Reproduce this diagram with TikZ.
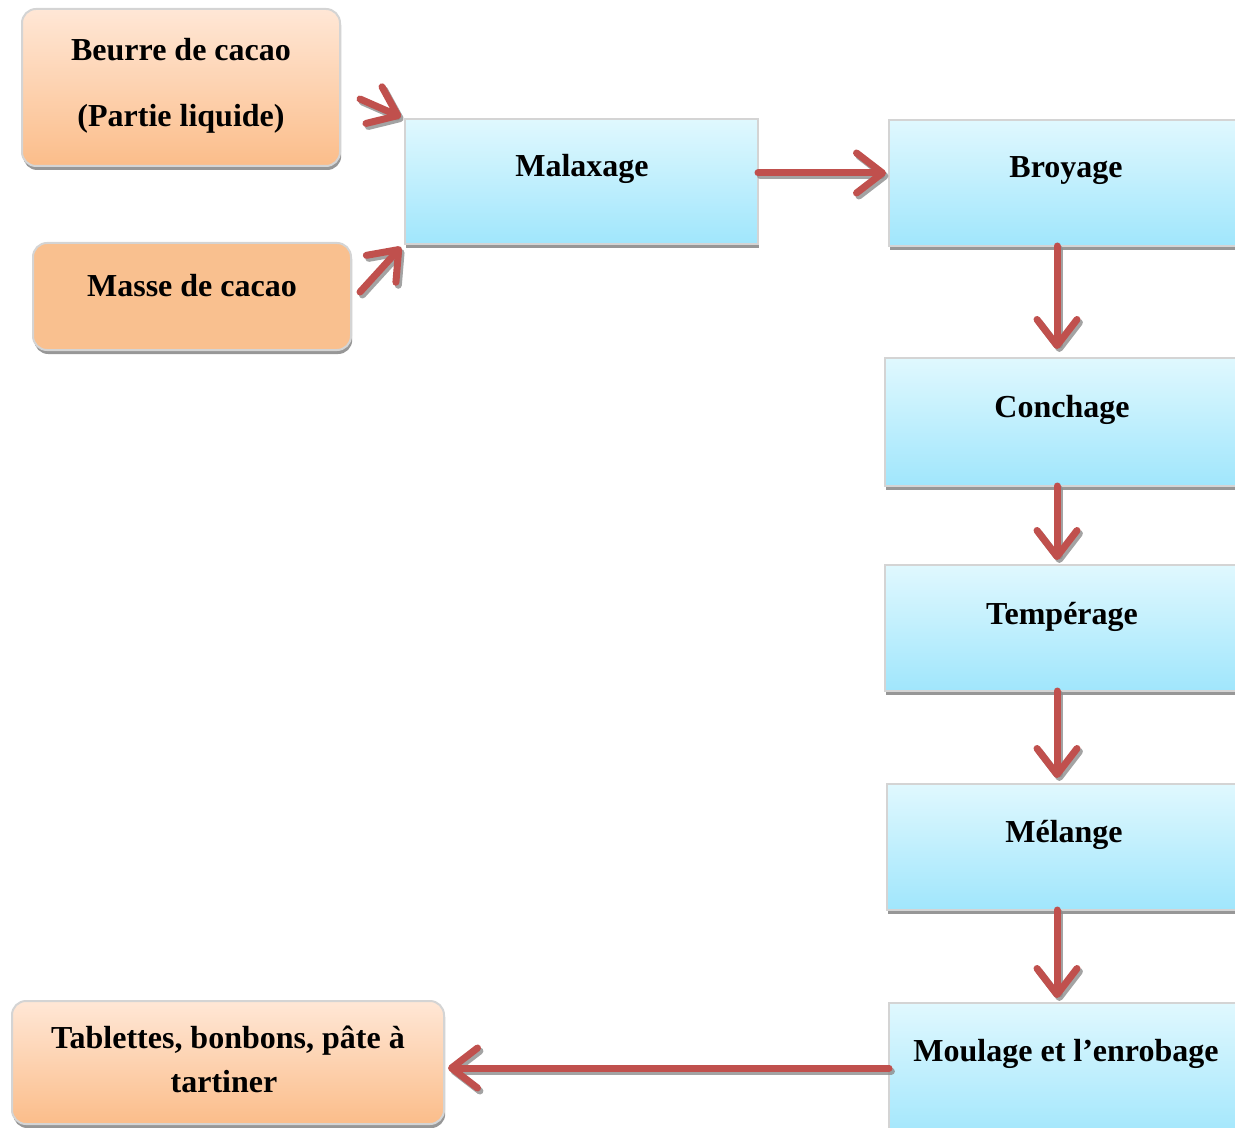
\documentclass[tikz,border=0pt]{standalone}
\usepackage{fontspec}
\setmainfont{Liberation Serif}
\usetikzlibrary{arrows.meta,fit,shadows,calc}

\definecolor{flowred}{HTML}{C0504D}
\definecolor{blueTop}{HTML}{E0F8FE}
\definecolor{blueBot}{HTML}{A0E6FC}
\definecolor{peachTop}{HTML}{FFE7D6}
\definecolor{peachBot}{HTML}{FBBD8A}
\definecolor{peachFlat}{HTML}{F9C08F}
\definecolor{boxEdge}{HTML}{D4D4D4}

\tikzset{
  box/.style={draw=boxEdge, line width=1pt, inner sep=0pt, outer sep=0pt,
    drop shadow={shadow xshift=0.6pt, shadow yshift=-2pt, fill=black!45, opacity=0.9}},
  bluebox/.style={box, top color=blueTop, bottom color=blueBot},
  peachbox/.style={box, rounded corners=7pt, top color=peachTop, bottom color=peachBot},
  flatbox/.style={box, rounded corners=7pt, fill=peachFlat},
  lbl/.style={font=\bfseries\fontsize{16pt}{19pt}\selectfont, inner sep=0pt, align=center},
  flow/.style={draw=flowred, line width=3.5pt, line cap=round, line join=round,
    -{Straight Barb[length=13pt, width=20pt, line cap=round, line join=round]}},
  flowshade/.style={flow, draw=black!45, opacity=0.8}
}
\newcommand\flowpath[1]{%
  \draw[flowshade, transform canvas={shift={(1.2pt,-1.5pt)}}] #1;
  \draw[flow] #1;}

\begin{document}
\begin{tikzpicture}[x=0.5pt, y=-0.5pt]
  \useasboundingbox (0,0) rectangle (1235,1128);
  \clip (0,0) rectangle (1235,1128);

  % process steps
  \node[bluebox, fit={(405,119) (758,244)}] (malax) {};
  \node[bluebox, fit={(889,120) (1250,246)}] (broy) {};
  \node[bluebox, fit={(885,358) (1250,486)}] (conch) {};
  \node[bluebox, fit={(885,565) (1250,691)}] (temp) {};
  \node[bluebox, fit={(887,784) (1250,910)}] (mel) {};
  \node[bluebox, fit={(889,1003) (1250,1142)}] (moul) {};

  % inputs and output
  \node[peachbox, fit={(22,9) (340,166)}] (beurre) {};
  \node[flatbox, fit={(33,243) (351,350)}] (masse) {};
  \node[peachbox, fit={(12,1001) (444,1124)}] (tab) {};

  % labels
  \node[lbl] (tMalax) at (582,169) {Malaxage};
  \node[lbl] (tBroy) at (1066,171) {Broyage};
  \node[lbl] (tConch) at (1062,410) {Conchage};
  \node[lbl] (tTemp) at (1062,617) {Tempérage};
  \node[lbl] (tMel) at (1064,835) {Mélange};
  \node[lbl] (tMoul) at (1066,1054) {Moulage et l’enrobage};
  \node[lbl] (tBeurre1) at (181,50) {Beurre de cacao};
  \node[lbl] (tBeurre2) at (181,119) {(Partie liquide)};
  \node[lbl] (tMasse) at (192,286) {Masse de cacao};
  \node[lbl] (tTab1) at (228,1041) {Tablettes, bonbons, pâte à};
  \node[lbl] (tTab2) at (224,1082) {tartiner};

  % arrow ends
  \coordinate (fromBeurre) at (360,99);
  \coordinate (fromMasse) at (360,292);
  \coordinate (toMalaxTop) at ($(malax.north west)+(-4,-2)$);
  \coordinate (toMalaxBot) at ($(malax.south west)+(-4,3)$);
  \coordinate (toBroy) at ($(broy.west |- 0,173)+(-3,0)$);
  \coordinate (toConch) at ($(1057,0 |- conch.north)+(0,-9)$);
  \coordinate (toTemp) at ($(1057,0 |- temp.north)+(0,-5)$);
  \coordinate (toMel) at ($(1057,0 |- mel.north)+(0,-6)$);
  \coordinate (toMoul) at ($(1057,0 |- moul.north)+(0,-5)$);
  \coordinate (toTab) at ($(tab.east |- 0,1068)+(4,0)$);

  % connectors
  \flowpath{(fromBeurre) -- (toMalaxTop)}
  \flowpath{(fromMasse) -- (toMalaxBot)}
  \flowpath{(malax.east |- 0,173) -- (toBroy)}
  \flowpath{(1057,0 |- broy.south) -- (toConch)}
  \flowpath{(1057,0 |- conch.south) -- (toTemp)}
  \flowpath{(1057,0 |- temp.south) -- (toMel)}
  \flowpath{(1057,0 |- mel.south) -- (toMoul)}
  \flowpath{(moul.west |- 0,1068) -- (toTab)}
\end{tikzpicture}
\end{document}
